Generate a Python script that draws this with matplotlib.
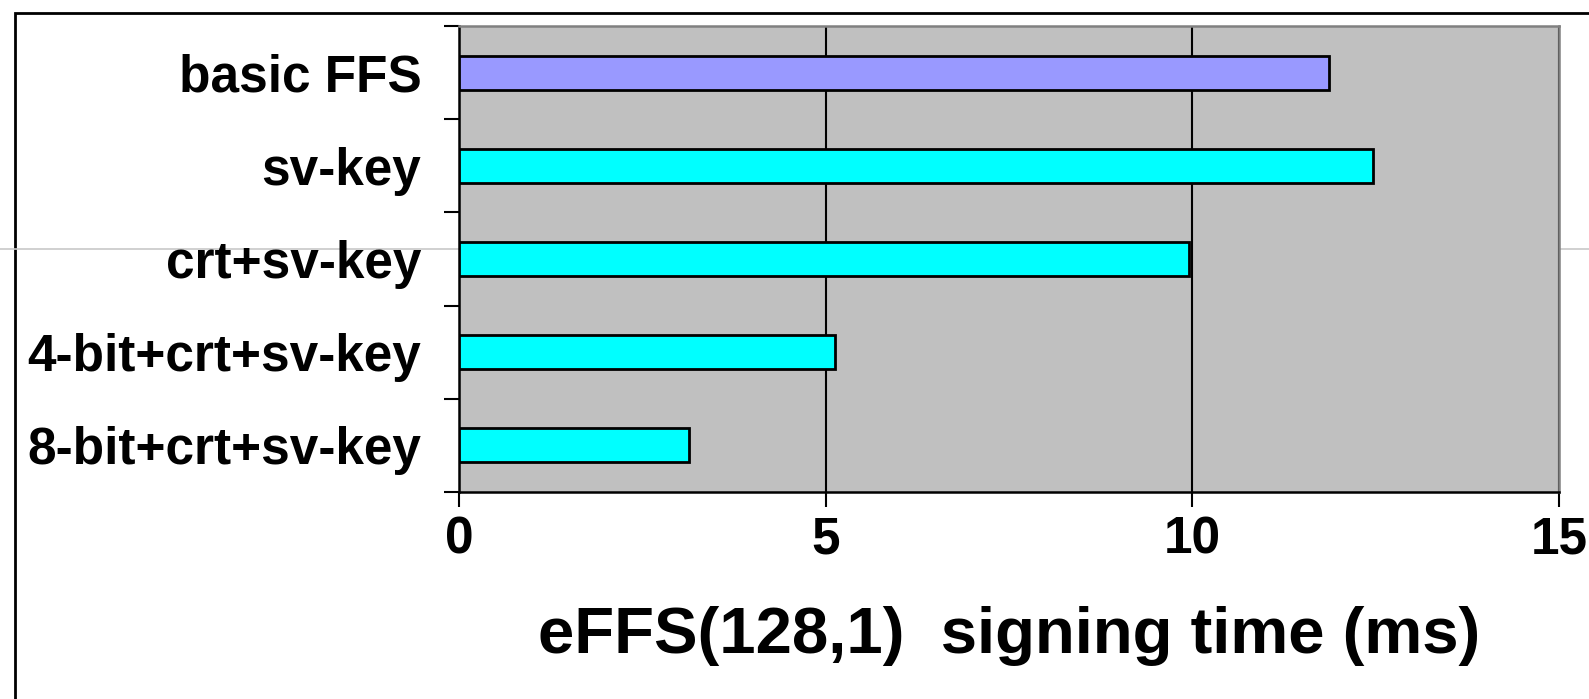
import matplotlib.pyplot as plt
from matplotlib.lines import Line2D
from matplotlib.patches import Rectangle

plt.rcParams['font.family'] = ['Liberation Sans', 'DejaVu Sans']

# signing times (ms), top to bottom
labels = ["basic FFS", "sv-key", "crt+sv-key", "4-bit+crt+sv-key", "8-bit+crt+sv-key"]
times = [11.87, 12.47, 9.95, 5.13, 3.14]
colors = ["#9999FF", "#00FFFF", "#00FFFF", "#00FFFF", "#00FFFF"]
xticks = [0, 5, 10, 15]

fig = plt.figure(figsize=(15.89, 6.99), dpi=100)
ax = fig.add_axes([0.2889, 0.2961, 0.6922, 0.6667])

pos = list(range(len(labels)))
ax.barh(pos, times, height=0.365, color=colors, edgecolor="black",
        linewidth=2, zorder=3)

ax.set_xlim(0, 15)
ax.set_ylim(len(labels) - 0.5, -0.5)
ax.set_facecolor("#C0C0C0")

ax.set_xticks(xticks)
ax.set_xticklabels([str(t) for t in xticks], fontsize=37, fontweight="bold")
ax.tick_params(axis="x", length=11, width=1.5, pad=6, direction="out")

# category labels sit between the boundary ticks
ax.set_yticks([p - 0.5 for p in pos] + [len(labels) - 0.5])
ax.set_yticklabels([])
ax.set_yticks(pos, minor=True)
ax.set_yticklabels(labels, minor=True, fontsize=37, fontweight="bold")
ax.tick_params(axis="y", which="major", length=11, width=1.5, direction="out")
ax.tick_params(axis="y", which="minor", length=0, pad=27)

ax.xaxis.grid(True, color="black", linewidth=1.5, zorder=1)
ax.set_axisbelow(True)

ax.spines["left"].set_color("black")
ax.spines["bottom"].set_color("black")
ax.spines["left"].set_linewidth(1.8)
ax.spines["bottom"].set_linewidth(1.8)
ax.spines["top"].set_color("#808080")
ax.spines["right"].set_color("#808080")
ax.spines["top"].set_linewidth(1.8)
ax.spines["right"].set_linewidth(1.8)

ax.set_xlabel("eFFS(128,1)  signing time (ms)", fontsize=47,
              fontweight="bold", labelpad=30)

# outer frame and the thin rule across the page
fig.add_artist(Rectangle((15 / 1589, -0.1), 1.2, 1.1 - 13 / 699,
                         transform=fig.transFigure, fill=False,
                         edgecolor="black", linewidth=2, zorder=-2))
fig.add_artist(Line2D([0, 1], [1 - 249 / 699] * 2, transform=fig.transFigure,
                      color="#C8C8C8", linewidth=1.2, zorder=-1))

fig.savefig("out.png", dpi=100)
